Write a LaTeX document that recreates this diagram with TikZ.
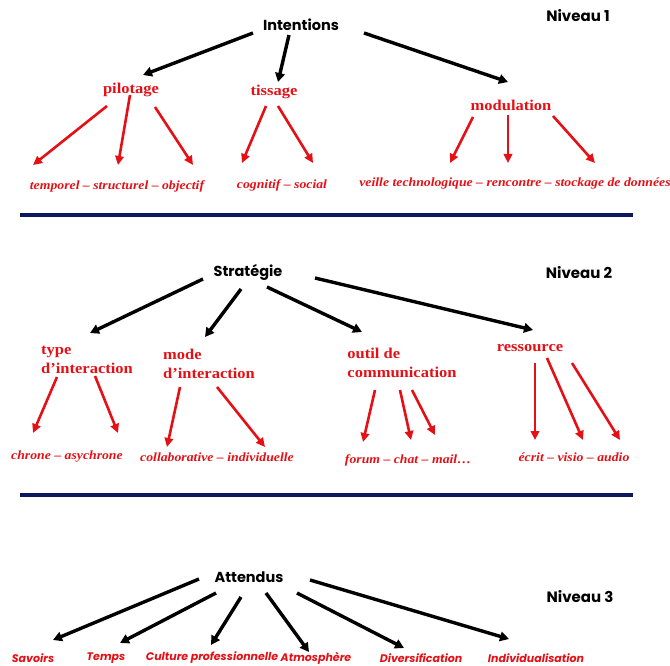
\documentclass[tikz,border=0pt]{standalone}
\usepackage{fontspec}
\setmainfont{Liberation Serif}
\newfontfamily\gothic{Poppins}
\newfontfamily\wideserif[FakeStretch=1.1]{Liberation Serif}
\usetikzlibrary{arrows.meta,calc}
\definecolor{rd}{RGB}{228,16,22}
\definecolor{navy}{RGB}{14,24,92}
\tikzset{
 head/.style={font=\gothic\bfseries\fontsize{14.5}{14.5}\selectfont, inner sep=0},
 lvl/.style={font=\gothic\bfseries\fontsize{15}{15}\selectfont, inner sep=0},
 sub/.style={font=\wideserif\bfseries\fontsize{15}{19}\selectfont, text=rd, inner sep=0, align=left},
 leaf/.style={font=\wideserif\bfseries\itshape\fontsize{12.5}{13}\selectfont, text=rd, inner sep=0},
 leafg/.style={font=\gothic\bfseries\itshape\fontsize{11}{12}\selectfont, text=rd, inner sep=0},
 blk/.style={line width=3.4pt, black, -{Triangle[length=9pt,width=9.5pt]}},
 ra/.style={line width=2.6pt, rd, -{Triangle[length=9pt,width=8.5pt]}},
 sepline/.style={line width=4.5pt, navy}
}
\begin{document}
\begin{tikzpicture}[x=1pt,y=-1pt]
\useasboundingbox (0,0) rectangle (670,666);
% ---------- Level 1
\node[head] (intentions) at (301,25) {Intentions};
\node[lvl] (niv1) at (578,16) {Niveau 1};
\node[sub] (pilotage) at (131,90) {pilotage};
\node[sub] (tissage) at (274,92) {tissage};
\node[sub] (modulation) at (511,105) {modulation};
\node[leaf] (l1a) at (117,186) {temporel – structurel – objectif};
\node[leaf] (l1b) at (282,185) {cognitif – social};
\node[leaf] (l1c) at (515,183) {veille technologique – rencontre – stockage de données};
\coordinate (s1a) at (20,215); \coordinate (s1b) at (633,215);
\draw[sepline] (s1a) -- (s1b);

\draw[blk] ($(intentions)+(-48,8)$) -- ($(pilotage)+(12,-15)$);
\draw[blk] ($(intentions)+(-12,10)$) -- ($(tissage)+(4,-10)$);
\draw[blk] ($(intentions)+(63,8)$) -- ($(modulation)+(-3,-23)$);

\draw[ra] ($(pilotage)+(-24,16)$) -- ($(l1a)+(-84,-21)$);
\draw[ra] ($(pilotage)+(-1,5)$) -- ($(l1a)+(1,-21)$);
\draw[ra] ($(pilotage)+(24,17)$) -- ($(l1a)+(76,-21)$);
\draw[ra] ($(tissage)+(-8,14)$) -- ($(l1b)+(-40,-22)$);
\draw[ra] ($(tissage)+(4,14)$) -- ($(l1b)+(31,-22)$);
\draw[ra] ($(modulation)+(-38,12)$) -- ($(l1c)+(-65,-20)$);
\draw[ra] ($(modulation)+(-3,10)$) -- ($(l1c)+(-7,-20)$);
\draw[ra] ($(modulation)+(42,11)$) -- ($(l1c)+(80,-20)$);

% ---------- Level 2
\node[head] (strategie) at (248,272) {Stratégie};
\node[lvl] (niv2) at (579,273) {Niveau 2};
\node[sub] (type) at (87,360) {type\\d’interaction};
\node[sub] (mode) at (209,364) {mode\\d’interaction};
\node[sub] (outil) at (402,363) {outil de\\communication};
\node[sub] (ressource) at (530,348) {ressource};
\node[leaf] (chrone) at (67,457) {chrone – asychrone};
\node[leaf] (collab) at (217,457) {collaborative – individuelle};
\node[leaf] (forum) at (408,460) {forum – chat – mail…};
\node[leaf] (ecrit) at (574,457) {écrit – visio – audio};
\coordinate (s2a) at (20,495); \coordinate (s2b) at (633,495);
\draw[sepline] (s2a) -- (s2b);

\draw[blk] ($(strategie)+(-45,7)$) -- ($(type)+(3,-27)$);
\draw[blk] ($(strategie)+(-7,17)$) -- ($(mode)+(-4,-27)$);
\draw[blk] ($(strategie)+(19,15)$) -- ($(outil)+(-40,-31)$);
\draw[blk] ($(strategie)+(67,6)$) -- ($(ressource)+(3,-18)$);

\draw[ra] ($(type)+(-30,17)$) -- ($(chrone)+(-34,-24)$);
\draw[ra] ($(type)+(8,16)$) -- ($(chrone)+(51,-24)$);
\draw[ra] ($(mode)+(-29,23)$) -- ($(collab)+(-50,-10)$);
\draw[ra] ($(mode)+(8,23)$) -- ($(collab)+(48,-10)$);
\draw[ra] ($(outil)+(-27,27)$) -- ($(forum)+(-45,-18)$);
\draw[ra] ($(outil)+(-2,27)$) -- ($(forum)+(3,-20)$);
\draw[ra] ($(outil)+(10,27)$) -- ($(forum)+(27,-25)$);
\draw[ra] ($(ressource)+(5,15)$) -- ($(ecrit)+(-39,-17)$);
\draw[ra] ($(ressource)+(17,10)$) -- ($(ecrit)+(9,-17)$);
\draw[ra] ($(ressource)+(42,15)$) -- ($(ecrit)+(46,-17)$);

% ---------- Level 3
\node[head] (attendus) at (249,577) {Attendus};
\node[lvl] (niv3) at (580,597) {Niveau 3};
\node[leafg] (savoirs) at (33,658) {Savoirs};
\node[leafg] (temps) at (106,658) {Temps};
\node[leafg] (culture) at (212,658) {Culture professionnelle};
\node[leafg] (atmo) at (316,658) {Atmosphère};
\node[leafg] (divers) at (421,658) {Diversification};
\node[leafg] (indiv) at (536,658) {Individualisation};

\draw[blk] ($(attendus)+(-50,2)$) -- ($(savoirs)+(20,-18)$);
\draw[blk] ($(attendus)+(-33,16)$) -- ($(temps)+(14,-15)$);
\draw[blk] ($(attendus)+(-8,20)$) -- ($(culture)+(-1,-13)$);
\draw[blk] ($(attendus)+(17,16)$) -- ($(atmo)+(-7,-6)$);
\draw[blk] ($(attendus)+(48,16)$) -- ($(divers)+(-17,-10)$);
\draw[blk] ($(attendus)+(61,3)$) -- ($(indiv)+(-27,-19)$);
\end{tikzpicture}
\end{document}
